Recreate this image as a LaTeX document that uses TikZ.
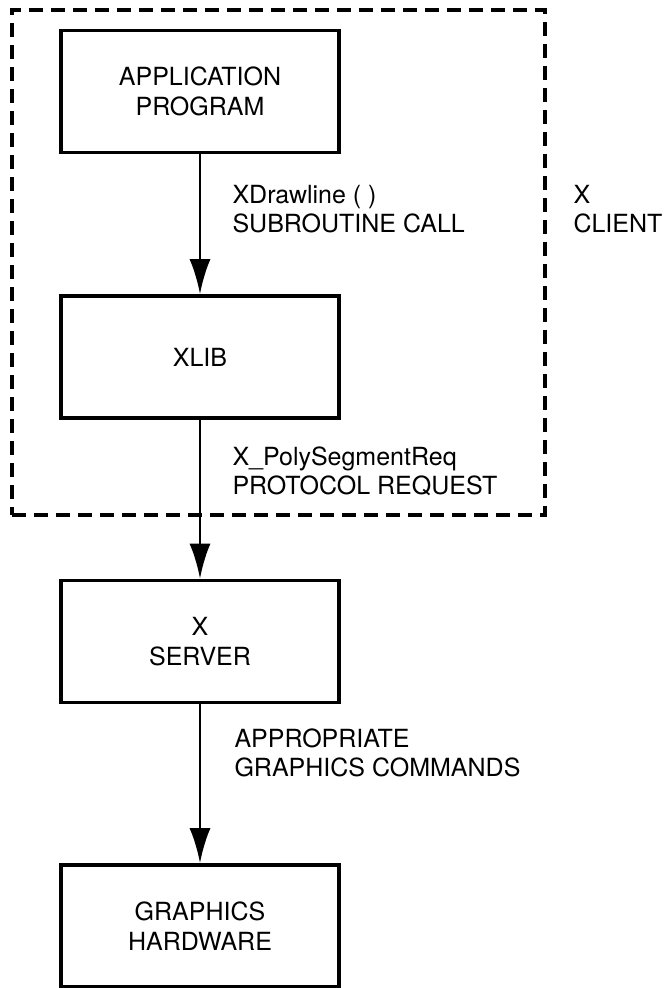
\documentclass[tikz,border=0pt]{standalone}
\usepackage{fontspec}
\setmainfont{TeX Gyre Heros}
\usetikzlibrary{arrows.meta}

\tikzset{
  blockbox/.style={draw, line width=3.6pt, minimum width=278pt, minimum height=122pt,
    align=center, font=\fontsize{25}{30}\selectfont},
  clientbox/.style={draw, line width=3.2pt, dash pattern=on 14pt off 8pt,
    minimum width=533pt, minimum height=505pt},
  flowlabel/.style={anchor=west, align=left, font=\fontsize{25}{29}\selectfont},
  flow/.style={line width=2.8pt, -{Latex[length=35pt,width=21pt]}}
}

\begin{document}
\begin{tikzpicture}[x=1pt,y=-1pt]
  \useasboundingbox (0,0) rectangle (672,988);
  % client side
  \node[clientbox] (client) at (278.5,262.5) {};
  \node[flowlabel] (clientname) at (570,209) {X\\CLIENT};
  \node[blockbox] (app) at (200,91.5) {APPLICATION\\PROGRAM};
  \node[blockbox] (xlib) at (200,357) {XLIB};
  % server side
  \node[blockbox] (server) at (200,641.5) {X\\SERVER};
  \node[blockbox] (hardware) at (200,926) {GRAPHICS\\HARDWARE};

  \draw[flow] (app) -- (xlib);
  \draw[flow] (xlib) -- (server);
  \draw[flow] (server) -- (hardware);

  \node[flowlabel] (call) at (229,209) {XDrawline ( )\\SUBROUTINE CALL};
  \node[flowlabel] (request) at (229,471) {X\_PolySegmentReq\\PROTOCOL REQUEST};
  \node[flowlabel] (commands) at (231,753) {APPROPRIATE\\GRAPHICS COMMANDS};
\end{tikzpicture}
\end{document}
